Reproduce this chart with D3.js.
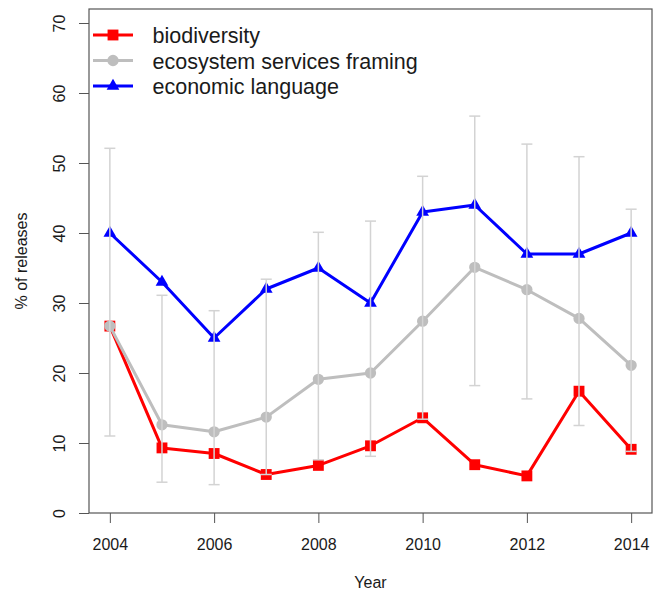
<!DOCTYPE html>
<html>
<head>
<meta charset="utf-8">
<script src="https://cdn.jsdelivr.net/npm/d3@7"></script>
<style>
  html, body { margin: 0; padding: 0; background: #fff; }
  svg { display: block; font-family: "Liberation Sans", Arial, sans-serif; }
</style>
</head>
<body>
<svg id="chart" width="662" height="594"></svg>
<script>
// Share of press releases per year, by framing
const years = [2004, 2005, 2006, 2007, 2008, 2009, 2010, 2011, 2012, 2013, 2014];
const biodiversity = [26.7, 9.3, 8.5, 5.5, 6.8, 9.6, 13.6, 6.9, 5.3, 17.4, 9.1];
const ecosystemServices = [26.7, 12.6, 11.6, 13.7, 19.1, 20.0, 27.4, 35.1, 31.9, 27.8, 21.1];
const economicLanguage = [40, 33, 25, 32, 35, 30, 43, 44, 37, 37, 40];
// Range bars per year
const rangeLow = [11.0, 4.4, 4.05, 5.5, 7.6, 8.1, 13.4, 18.2, 16.3, 12.5, 8.8];
const rangeHigh = [52.1, 31.1, 28.9, 33.4, 40.1, 41.7, 48.1, 56.7, 52.7, 50.9, 43.4];

const xTicks = [2004, 2006, 2008, 2010, 2012, 2014];
const yTicks = [0, 10, 20, 30, 40, 50, 60, 70];

const seriesNames = ["biodiversity", "ecosystem services framing", "economic language"];
const seriesValues = [biodiversity, ecosystemServices, economicLanguage];
const seriesColors = ["#ff0000", "#bebebe", "#0000ff"];
const seriesShapes = [d3.symbolSquare, d3.symbolCircle, d3.symbolTriangle];
const seriesSizes = [118, 100, 70];

const svg = d3.select("#chart");
const plot = { left: 89, right: 652, top: 9, bottom: 513 };

const x = d3.scaleLinear().domain([2003.6, 2014.4]).range([plot.left, plot.right]);
const y = d3.scaleLinear().domain([0, 72]).range([plot.bottom, plot.top]);

const axisColor = "#555";
const textColor = "#1a1a1a";

// Axes
const gx = svg.append("g")
  .attr("transform", `translate(0,${plot.bottom})`)
  .call(d3.axisBottom(x).tickValues(xTicks).tickFormat(d3.format("d")).tickSize(10));
gx.select(".domain").remove();
gx.selectAll(".tick line").attr("stroke", axisColor);
gx.selectAll(".tick text")
  .attr("y", 37).attr("dy", null)
  .attr("fill", textColor)
  .style("font-size", "16px");

const gy = svg.append("g")
  .attr("transform", `translate(${plot.left},0)`)
  .call(d3.axisLeft(y).tickValues(yTicks).tickSize(10));
gy.select(".domain").remove();
gy.selectAll(".tick line").attr("stroke", axisColor);
gy.selectAll(".tick text")
  .attr("x", 0).attr("y", 0).attr("dy", null)
  .attr("text-anchor", "middle")
  .attr("transform", "translate(-24.5,0) rotate(-90)")
  .attr("fill", textColor)
  .style("font-size", "16px");

// Plot frame
svg.append("rect")
  .attr("x", plot.left).attr("y", plot.top)
  .attr("width", plot.right - plot.left).attr("height", plot.bottom - plot.top)
  .attr("fill", "none").attr("stroke", axisColor).attr("stroke-width", 1.2);

// Axis titles
svg.append("text")
  .attr("x", (plot.left + plot.right) / 2).attr("y", 588)
  .attr("text-anchor", "middle").attr("fill", textColor)
  .style("font-size", "16px").text("Year");
svg.append("text")
  .attr("transform", `translate(27,${(plot.top + plot.bottom) / 2}) rotate(-90)`)
  .attr("text-anchor", "middle").attr("fill", textColor)
  .style("font-size", "16px").text("% of releases");

// Series lines and markers
const line = d3.line().x((d, i) => x(years[i])).y(d => y(d));
seriesValues.forEach((vals, k) => {
  const g = svg.append("g");
  g.append("path").datum(vals)
    .attr("d", line)
    .attr("fill", "none")
    .attr("stroke", seriesColors[k])
    .attr("stroke-width", 3)
    .attr("stroke-linejoin", "round");
  g.selectAll("path.pt").data(vals).join("path")
    .attr("class", "pt")
    .attr("d", d3.symbol(seriesShapes[k], seriesSizes[k]))
    .attr("transform", (d, i) => `translate(${x(years[i])},${y(d)})`)
    .attr("fill", seriesColors[k]);
});

// Range bars with end caps
const bars = svg.append("g").attr("stroke", "#d3d3d3").attr("stroke-width", 1.5);
years.forEach((yr, i) => {
  const cx = x(yr);
  bars.append("line").attr("x1", cx).attr("x2", cx).attr("y1", y(rangeLow[i])).attr("y2", y(rangeHigh[i]));
  bars.append("line").attr("x1", cx - 5.5).attr("x2", cx + 5.5).attr("y1", y(rangeLow[i])).attr("y2", y(rangeLow[i]));
  bars.append("line").attr("x1", cx - 5.5).attr("x2", cx + 5.5).attr("y1", y(rangeHigh[i])).attr("y2", y(rangeHigh[i]));
});

// Legend
const legend = svg.append("g");
seriesNames.forEach((name, k) => {
  const ly = 35 + k * 25.5;
  legend.append("line")
    .attr("x1", 93).attr("x2", 133).attr("y1", ly).attr("y2", ly)
    .attr("stroke", seriesColors[k]).attr("stroke-width", 3);
  legend.append("path")
    .attr("d", d3.symbol(seriesShapes[k], seriesSizes[k])())
    .attr("transform", `translate(113,${ly})`)
    .attr("fill", seriesColors[k]);
  legend.append("text")
    .attr("x", 152.5).attr("y", ly + 8.3)
    .attr("fill", textColor)
    .style("font-size", "21.5px")
    .text(name);
});
</script>
</body>
</html>
